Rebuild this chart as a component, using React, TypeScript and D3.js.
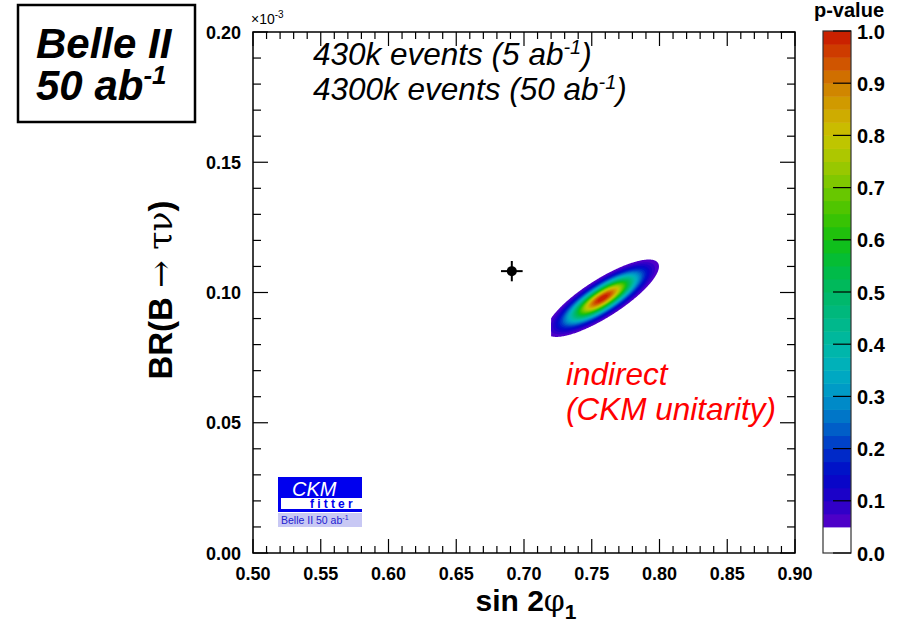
import React, { useEffect, useRef } from "react";
import * as d3 from "d3";

const W = 906;
const H = 625;

// axes
const xDomain = [0.5, 0.9];
const yDomain = [0, 0.2];
const xTickLabels = ["0.50", "0.55", "0.60", "0.65", "0.70", "0.75", "0.80", "0.85", "0.90"];
const yTickLabels = ["0.00", "0.05", "0.10", "0.15", "0.20"];
const zTickLabels = ["0.0", "0.1", "0.2", "0.3", "0.4", "0.5", "0.6", "0.7", "0.8", "0.9", "1.0"];

// direct measurement (sin2phi1, BR x1e-3) with errors
const measX = [0.691];
const measY = [0.1082];
const measErrX = [0.008];
const measErrY = [0.0039];

// indirect fit (CKM unitarity), gaussian approximation
const fitCenter = [0.758, 0.0978];
const fitSigma = [0.017, 0.00607];
const fitRho = 0.82;
const fitScanX = [0.72, 0.8];

// colour palette of the p-value
const palStops = [0.05, 0.1, 0.15, 0.2, 0.25, 0.3, 0.35, 0.4, 0.45, 0.5, 0.55, 0.6, 0.65, 0.7, 0.75, 0.8, 0.85, 0.9, 0.95, 1.0];
const palColors = [
  "#5a00c8", "#2400c8", "#0008c8", "#0034c8", "#006cc8", "#0094c8", "#00aec0", "#00b8a4",
  "#00b884", "#00b864", "#00bc40", "#14c010", "#44c400", "#74c800", "#a4c800", "#c8c400",
  "#d0a400", "#d07c00", "#d04800", "#c81400",
];

const App = () => {
  const ref = useRef<SVGSVGElement>(null);

  useEffect(() => {
    const svg = d3.select(ref.current);
    svg.selectAll("*").remove();

    const L = 253, R = 795, T = 32, B = 553;
    const x = d3.scaleLinear().domain(xDomain).range([L, R]);
    const y = d3.scaleLinear().domain(yDomain).range([B, T]);
    const color = d3.scaleLinear<string>().domain(palStops).range(palColors).clamp(true);
    const bold = "'Liberation Sans', Arial, Helvetica, sans-serif";

    svg.append("rect").attr("width", W).attr("height", H).attr("fill", "white");

    // ---- p-value field of the indirect fit
    const nx = 241, ny = 241;
    const x0 = 0.7, x1 = 0.82, y0 = 0.07, y1 = 0.13;
    const dx = (x1 - x0) / (nx - 1), dy = (y1 - y0) / (ny - 1);
    const values = new Array(nx * ny);
    for (let j = 0; j < ny; j++) {
      for (let i = 0; i < nx; i++) {
        const u = (x0 + i * dx - fitCenter[0]) / fitSigma[0];
        const v = (y0 + j * dy - fitCenter[1]) / fitSigma[1];
        const chi2 = (u * u + v * v - 2 * fitRho * u * v) / (1 - fitRho * fitRho);
        values[j * nx + i] = Math.exp(-chi2 / 2);
      }
    }
    const levels = d3.range(0.05, 0.999, 0.025);
    const contours = d3.contours().size([nx, ny]).thresholds(levels)(values);
    const proj = d3.geoTransform({
      point(px: number, py: number) {
        (this as any).stream.point(x(x0 + (px - 0.5) * dx), y(y0 + (py - 0.5) * dy));
      },
    });
    const path = d3.geoPath(proj);

    svg.append("clipPath").attr("id", "scan")
      .append("rect")
      .attr("x", x(fitScanX[0])).attr("y", T)
      .attr("width", x(fitScanX[1]) - x(fitScanX[0])).attr("height", B - T);

    svg.append("g").attr("clip-path", "url(#scan)")
      .selectAll("path").data(contours).join("path")
      .attr("d", (d: any) => path(d))
      .attr("fill", (d: any) => color(d.value + 0.0125));

    // ---- frame and ticks
    svg.append("rect").attr("x", L).attr("y", T).attr("width", R - L).attr("height", B - T)
      .attr("fill", "none").attr("stroke", "black").attr("stroke-width", 1.5);

    const g = svg.append("g").attr("stroke", "black").attr("stroke-width", 1.2);
    d3.range(0, 41).forEach((k) => {
      const v = 0.5 + k * 0.01;
      const len = k % 5 === 0 ? 14 : 7;
      g.append("line").attr("x1", x(v)).attr("x2", x(v)).attr("y1", B).attr("y2", B - len);
      g.append("line").attr("x1", x(v)).attr("x2", x(v)).attr("y1", T).attr("y2", T + len);
    });
    d3.range(0, 21).forEach((k) => {
      const v = k * 0.01;
      const len = k % 5 === 0 ? 15 : 8;
      g.append("line").attr("y1", y(v)).attr("y2", y(v)).attr("x1", L).attr("x2", L + len);
      g.append("line").attr("y1", y(v)).attr("y2", y(v)).attr("x1", R).attr("x2", R - len);
    });

    svg.append("g").selectAll("text").data(xTickLabels).join("text")
      .attr("x", (d) => x(+d)).attr("y", 580)
      .attr("text-anchor", "middle").attr("font-family", bold).attr("font-weight", "bold")
      .attr("font-size", 18).text((d) => d);
    svg.append("g").selectAll("text").data(yTickLabels).join("text")
      .attr("x", 241).attr("y", (d) => y(+d) + 6.5)
      .attr("text-anchor", "end").attr("font-family", bold).attr("font-weight", "bold")
      .attr("font-size", 18).text((d) => d);

    const exp = svg.append("text").attr("x", 251).attr("y", 24)
      .attr("font-family", bold).attr("font-size", 14);
    exp.append("tspan").text("\u00d710");
    exp.append("tspan").attr("dy", -6).attr("font-size", 10).text("-3");

    // axis titles
    const xt = svg.append("text").attr("x", 526).attr("y", 611).attr("text-anchor", "middle")
      .attr("font-family", bold).attr("font-weight", "bold").attr("font-size", 30);
    xt.append("tspan").text("sin 2");
    xt.append("tspan").attr("font-family", "'DejaVu Serif', serif").attr("font-weight", "normal").text("\u03c6");
    xt.append("tspan").attr("dy", 8).attr("font-size", 21).text("1");

    const yt = svg.append("text").attr("transform", "translate(172,290) rotate(-90)")
      .attr("text-anchor", "middle").attr("font-family", bold).attr("font-weight", "bold")
      .attr("font-size", 33);
    yt.append("tspan").text("BR(B ");
    yt.append("tspan").attr("font-family", "'DejaVu Serif', serif").attr("font-weight", "normal").text("\u2192 \u03c4\u03bd");
    yt.append("tspan").text(")");

    // ---- measurement point
    const pts = measX.map((mx, i) => ({ x: mx, y: measY[i], ex: measErrX[i], ey: measErrY[i] }));
    const pg = svg.append("g");
    pts.forEach((p) => {
      pg.append("line").attr("x1", x(p.x - p.ex)).attr("x2", x(p.x + p.ex))
        .attr("y1", y(p.y)).attr("y2", y(p.y)).attr("stroke", "black").attr("stroke-width", 2);
      pg.append("line").attr("x1", x(p.x)).attr("x2", x(p.x))
        .attr("y1", y(p.y - p.ey)).attr("y2", y(p.y + p.ey)).attr("stroke", "black").attr("stroke-width", 2);
      pg.append("circle").attr("cx", x(p.x)).attr("cy", y(p.y)).attr("r", 5).attr("fill", "black");
    });

    // ---- annotations
    const it = svg.append("g").attr("font-family", bold).attr("font-style", "italic").attr("font-size", 31.5);
    const l1 = it.append("text").attr("x", 313).attr("y", 65);
    l1.append("tspan").text("430k events (5 ab");
    l1.append("tspan").attr("dy", -11).attr("font-size", 20).text("-1");
    l1.append("tspan").attr("dy", 11).text(")");
    const l2 = it.append("text").attr("x", 313).attr("y", 100);
    l2.append("tspan").text("4300k events (50 ab");
    l2.append("tspan").attr("dy", -11).attr("font-size", 20).text("-1");
    l2.append("tspan").attr("dy", 11).text(")");
    it.append("text").attr("x", 566).attr("y", 385).attr("fill", "#ff0000").text("indirect");
    it.append("text").attr("x", 566).attr("y", 420).attr("fill", "#ff0000").text("(CKM unitarity)");

    // Belle II box
    svg.append("rect").attr("x", 18).attr("y", 5).attr("width", 177).attr("height", 117)
      .attr("fill", "white").attr("stroke", "black").attr("stroke-width", 2.5);
    const bt = svg.append("g").attr("font-family", bold).attr("font-weight", "bold")
      .attr("font-style", "italic").attr("font-size", 42);
    bt.append("text").attr("x", 36).attr("y", 58).text("Belle II");
    const b2 = bt.append("text").attr("x", 36).attr("y", 100);
    b2.append("tspan").text("50 ab");
    b2.append("tspan").attr("dy", -16).attr("font-size", 26).text("-1");

    // CKMfitter logo
    const lg = svg.append("g");
    lg.append("rect").attr("x", 278).attr("y", 477).attr("width", 84).attr("height", 35).attr("fill", "#0000ee");
    lg.append("rect").attr("x", 281).attr("y", 498).attr("width", 81).attr("height", 11).attr("fill", "white");
    lg.append("text").attr("x", 292).attr("y", 496).attr("fill", "white").attr("font-family", bold)
      .attr("font-style", "italic").attr("font-size", 20).text("CKM");
    lg.append("text").attr("x", 310).attr("y", 508).attr("fill", "#0000ee").attr("font-family", bold)
      .attr("font-weight", "bold").attr("font-size", 12).attr("letter-spacing", 3.2).text("fitter");
    lg.append("rect").attr("x", 278).attr("y", 513).attr("width", 84).attr("height", 14).attr("fill", "#c8c8f4");
    const ll = lg.append("text").attr("x", 281).attr("y", 524).attr("fill", "#2020d0")
      .attr("font-family", bold).attr("font-size", 10.5);
    ll.append("tspan").text("Belle II 50 ab");
    ll.append("tspan").attr("dy", -4).attr("font-size", 7).text("-1");

    // ---- colour bar
    const cbL = 823, cbR = 851;
    const z = d3.scaleLinear().domain([0, 1]).range([553, 31]);
    const cb = svg.append("g");
    cb.append("rect").attr("x", cbL).attr("y", z(0.05)).attr("width", cbR - cbL)
      .attr("height", z(0) - z(0.05)).attr("fill", "white");
    cb.selectAll("rect.band").data(levels).join("rect").attr("class", "band")
      .attr("x", cbL).attr("width", cbR - cbL)
      .attr("y", (d) => z(d + 0.025)).attr("height", (d) => z(d) - z(d + 0.025) + 0.5)
      .attr("fill", (d) => color(d + 0.0125));
    cb.append("rect").attr("x", cbL).attr("y", z(1)).attr("width", cbR - cbL).attr("height", z(0) - z(1))
      .attr("fill", "none").attr("stroke", "#333").attr("stroke-width", 1.2);
    cb.selectAll("line").data(zTickLabels).join("line")
      .attr("x1", cbR - 18).attr("x2", cbR).attr("y1", (d) => z(+d)).attr("y2", (d) => z(+d))
      .attr("stroke", "black").attr("stroke-width", 1.2);
    cb.selectAll("text").data(zTickLabels).join("text")
      .attr("x", 857).attr("y", (d) => z(+d) + 7.5)
      .attr("font-family", bold).attr("font-weight", "bold").attr("font-size", 20).text((d) => d);
    svg.append("text").attr("x", 849).attr("y", 17).attr("text-anchor", "middle")
      .attr("font-family", bold).attr("font-weight", "bold").attr("font-size", 20).text("p-value");
  }, []);

  return (
    <svg ref={ref} width={W} height={H} style={{ position: "absolute", left: 0, top: 0 }} />
  );
};

export default App;
